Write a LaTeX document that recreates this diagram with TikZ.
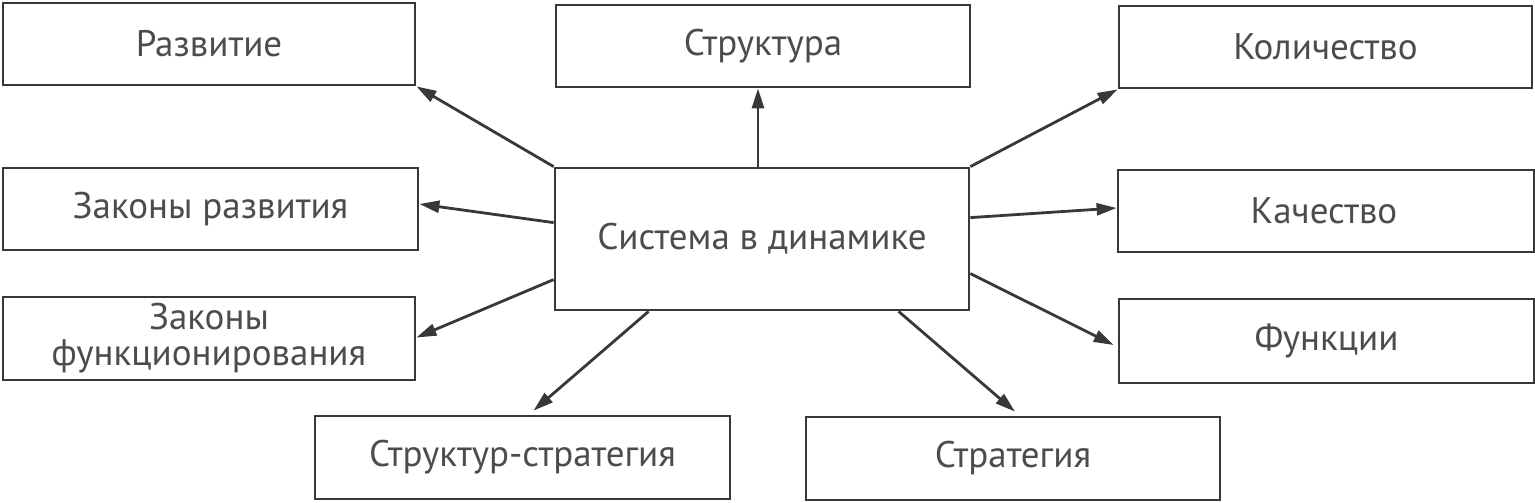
\documentclass[tikz,border=0pt]{standalone}
\usepackage{fontspec}
\setmainfont{PT Sans}
\usetikzlibrary{arrows.meta}
\definecolor{ink}{HTML}{383838}
\begin{document}
\begin{tikzpicture}[x=1pt,y=-1pt,
  box/.style={draw=ink,line width=2.8pt,inner sep=0pt,minimum height=82pt,text=ink!90,font=\fontsize{37}{36}\selectfont,align=center},
  link/.style={draw=ink,line width=2.8pt,-{Triangle[length=20pt,width=12pt]}}]
\useasboundingbox (0,0) rectangle (1535,503);
\node[box,minimum width=412pt] (r) at (209,44) {Развитие};
\node[box,minimum width=414pt] (s) at (763,46) {Структура};
\node[box,minimum width=413pt] (k) at (1325.5,47) {Количество};
\node[box,minimum width=415pt] (zr) at (210.5,209) {Законы развития};
\node[box,minimum width=414pt,minimum height=142pt] (c) at (762,239) {\raisebox{5pt}{Система в динамике}};
\node[box,minimum width=416pt] (q) at (1326,211) {Качество\hspace*{4pt}};
\node[box,minimum width=412pt,minimum height=83pt] (zf) at (209,338.5) {Законы\\функционирования};
\node[box,minimum width=415pt,minimum height=84pt] (f) at (1326.5,341) {Функции};
\node[box,minimum width=415pt,minimum height=83pt] (ss) at (522.5,457.5) {Структур-стратегия};
\node[box,minimum width=414pt,minimum height=83pt] (st) at (1013,458.5) {Стратегия};
\draw[link] (c.north west) -- (r.south east);
\draw[link] ([xshift=-4pt]c.north) -- ([xshift=-4pt]c.north |- s.south);
\draw[link] (c.north east) -- (k.south west);
\draw[link] ([yshift=-56pt]c.north west) -- ([yshift=5pt]zr.east);
\draw[link] ([yshift=-113pt]c.north west) -- ([yshift=1pt]zf.east);
\draw[link] ([yshift=-51pt]c.north east) -- ([yshift=3pt]q.west);
\draw[link] ([yshift=-107pt]c.north east) -- ([yshift=-4pt,xshift=-4pt]f.west);
\draw[link] ([xshift=95pt]c.south west) -- ([xshift=11pt,yshift=4pt]ss.north);
\draw[link] ([xshift=345pt]c.south west) -- ([xshift=2pt,yshift=4pt]st.north);
\end{tikzpicture}
\end{document}
